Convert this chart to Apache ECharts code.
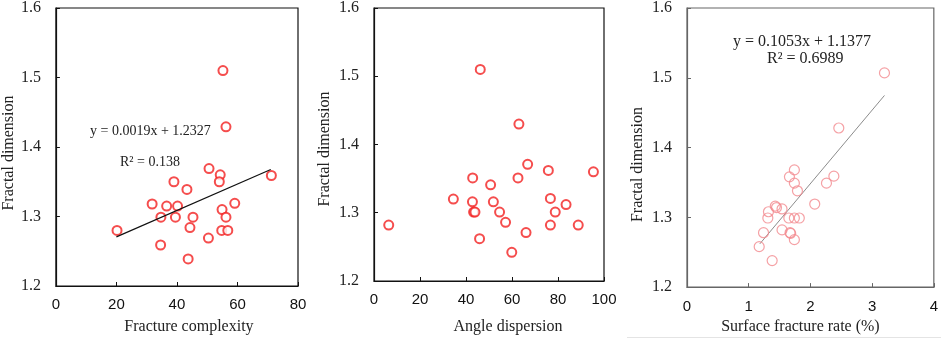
<!DOCTYPE html>
<html>
<head>
<meta charset="utf-8">
<script src="https://cdn.jsdelivr.net/npm/echarts@6/dist/echarts.min.js"></script>
<style>
  html, body { margin: 0; padding: 0; background: #fff; }
  #chart { width: 941px; height: 340px; }
</style>
</head>
<body>
<div id="chart"></div>
<script>
// fractal dimension vs fracture complexity
const complexityX = [55.2, 56.2, 50.6, 54.3, 54.0, 71.2, 39.0, 43.3, 31.8, 36.6, 40.2, 59.1,
  54.9, 34.7, 39.5, 45.3, 56.2, 44.3, 20.2, 54.8, 56.8, 50.4, 34.6, 43.7];
const complexityY = [1.510, 1.429, 1.369, 1.360, 1.350, 1.359, 1.350, 1.339, 1.318, 1.315, 1.315, 1.319,
  1.310, 1.299, 1.299, 1.299, 1.299, 1.284, 1.280, 1.280, 1.280, 1.269, 1.259, 1.239];

// fractal dimension vs angle dispersion
const angleX = [46.2, 63.0, 66.8, 75.8, 95.4, 42.9, 62.6, 50.7, 34.5, 42.8, 51.9, 76.7,
  83.5, 43.3, 43.9, 54.6, 78.8, 57.2, 6.4, 76.7, 88.8, 66.1, 45.9, 59.9];
const angleY = [1.510, 1.430, 1.371, 1.362, 1.360, 1.351, 1.351, 1.341, 1.320, 1.316, 1.316, 1.321,
  1.312, 1.301, 1.301, 1.301, 1.301, 1.286, 1.282, 1.282, 1.282, 1.271, 1.262, 1.242];

// fractal dimension vs surface fracture rate (%)
const rateX = [3.20, 2.46, 2.38, 2.26, 1.74, 1.66, 1.74, 1.79, 2.07, 1.43, 1.45, 1.54,
  1.32, 1.31, 1.65, 1.74, 1.82, 1.54, 1.67, 1.68, 1.24, 1.74, 1.17, 1.38];
const rateY = [1.507, 1.428, 1.359, 1.349, 1.368, 1.358, 1.349, 1.338, 1.319, 1.316, 1.314, 1.312,
  1.308, 1.299, 1.299, 1.299, 1.299, 1.282, 1.278, 1.277, 1.278, 1.268, 1.258, 1.238];

// fitted lines (from the equations printed on the chart)
const fit1 = { slope: 0.0019, intercept: 1.2327, xRange: [20, 71] };
const fit3 = { slope: 0.1053, intercept: 1.1377, xRange: [1.18, 3.2] };

const yTicks = [1.2, 1.3, 1.4, 1.5, 1.6];

const pairs = (xs, ys) => xs.map((x, i) => [x, ys[i]]);
const fitLine = (f) => f.xRange.map((x) => [x, f.intercept + f.slope * x]);

const serif = "'Liberation Serif', 'Times New Roman', serif";
const sans = "'Liberation Sans', Arial, sans-serif";

function xAxisOf(idx, max, interval, name, gap, pad, color, margin) {
  return {
    gridIndex: idx, type: "value", min: 0, max: max, interval: interval,
    name: name, nameLocation: "middle", nameGap: gap,
    nameTextStyle: { fontFamily: serif, fontSize: 16, color: "#222", padding: pad },
    axisLine: { show: true, lineStyle: { color: color, width: 1.2 } },
    axisTick: { show: true, inside: true, length: 4, lineStyle: { color: color } },
    axisLabel: { fontFamily: sans, fontSize: 15, color: "#111", margin: margin },
    splitLine: { show: false },
  };
}

function yAxisOf(idx, gap, pad, color) {
  return {
    gridIndex: idx, type: "value", min: yTicks[0], max: yTicks[yTicks.length - 1], interval: 0.1,
    name: "Fractal dimension", nameLocation: "middle", nameGap: gap,
    nameTextStyle: { fontFamily: serif, fontSize: 16, color: "#222", padding: pad },
    axisLine: { show: true, lineStyle: { color: color, width: 1.2 } },
    axisTick: { show: true, inside: true, length: 4, lineStyle: { color: color } },
    axisLabel: {
      fontFamily: serif, fontSize: 16, color: "#222", margin: 15,
      formatter: (v) => v.toFixed(1),
    },
    splitLine: { show: false },
  };
}

const chart = echarts.init(document.getElementById("chart"));

const option = {
  animation: false,
  backgroundColor: "#fff",
  grid: [
    { left: 49, top: 7, width: 249, height: 280, show: true, borderColor: "#111", borderWidth: 1.2 },
    { left: 374, top: 7, width: 230, height: 275, show: true, borderColor: "#111", borderWidth: 1.2 },
    { left: 687, top: 8, width: 248, height: 285, show: true, borderColor: "#666", borderWidth: 1.2 },
  ],
  xAxis: [
    xAxisOf(0, 80, 20, "Fracture complexity", 33, [0, 0, 0, 24], "#111", 11),
    xAxisOf(1, 100, 20, "Angle dispersion", 38, [0, 0, 0, 38], "#111", 11),
    xAxisOf(2, 4, 1, "Surface fracture rate (%)", 27, [0, 20, 0, 0], "#666", 12),
  ],
  yAxis: [
    yAxisOf(0, 33, [0, 12, 0, 0], "#111"),
    yAxisOf(1, 41, [0, 9, 0, 0], "#111"),
    yAxisOf(2, 41, [0, 34, 0, 0], "#666"),
  ],
  series: [
    {
      type: "scatter", xAxisIndex: 0, yAxisIndex: 0, symbol: "emptyCircle", symbolSize: 9,
      itemStyle: { color: "#f22020", borderWidth: 1.1 },
      data: pairs(complexityX, complexityY),
    },
    {
      type: "line", xAxisIndex: 0, yAxisIndex: 0, symbol: "none",
      lineStyle: { color: "#111", width: 1.2 },
      data: fitLine(fit1),
    },
    {
      type: "scatter", xAxisIndex: 1, yAxisIndex: 1, symbol: "emptyCircle", symbolSize: 9,
      itemStyle: { color: "#f22020", borderWidth: 1.1 },
      data: pairs(angleX, angleY),
    },
    {
      type: "line", xAxisIndex: 2, yAxisIndex: 2, symbol: "none", z: 1,
      lineStyle: { color: "#8c8c8c", width: 1 },
      data: fitLine(fit3),
    },
    {
      type: "scatter", xAxisIndex: 2, yAxisIndex: 2, symbol: "circle", symbolSize: 10, z: 2,
      itemStyle: { color: "rgba(255,255,255,0)", borderColor: "#f28a8e", borderWidth: 1.2 },
      data: pairs(rateX, rateY),
    },
  ],
  graphic: [
    { type: "text", left: 90, top: 124, style: { text: "y = 0.0019x + 1.2327", font: "14px " + serif, fill: "#222" } },
    { type: "text", left: 120, top: 155, style: { text: "R² = 0.138", font: "14px " + serif, fill: "#222" } },
    { type: "text", left: 733, top: 34, style: { text: "y = 0.1053x + 1.1377", font: "16px " + serif, fill: "#222" } },
    { type: "text", left: 767, top: 51, style: { text: "R² = 0.6989", font: "16px " + serif, fill: "#222" } },
    { type: "line", shape: { x1: 627, y1: 337.5, x2: 941, y2: 337.5 }, style: { stroke: "#e4e4e4", lineWidth: 1 } },
  ],
};

chart.setOption(option);
</script>
</body>
</html>
